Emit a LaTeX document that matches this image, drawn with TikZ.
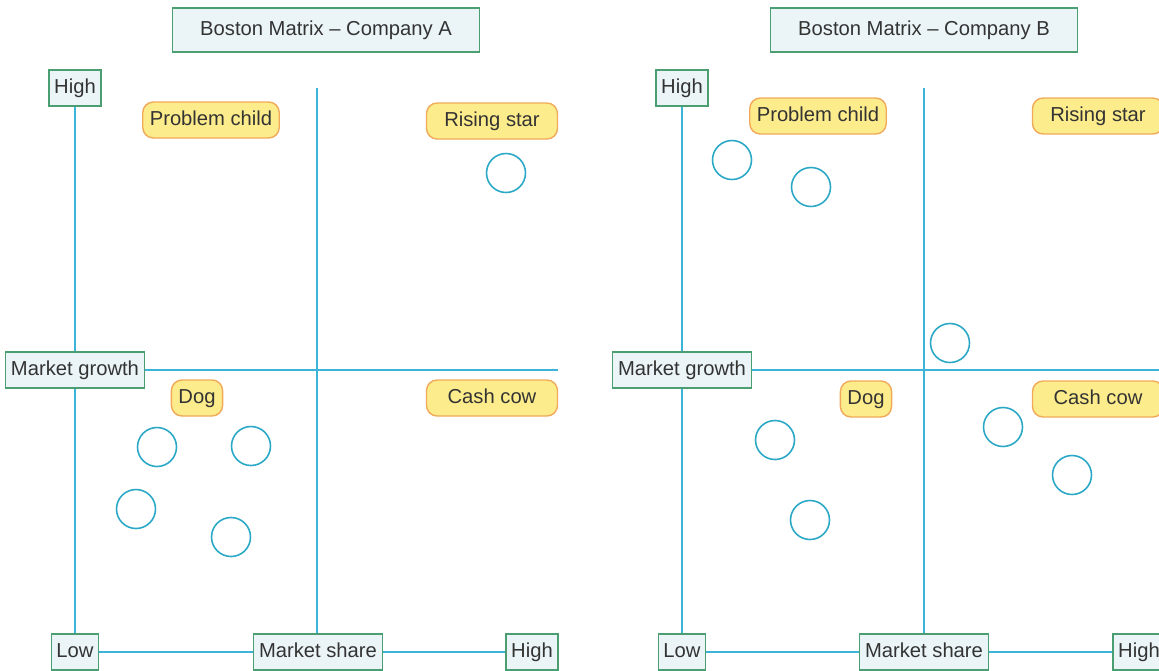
\documentclass[tikz,border=0pt]{standalone}
\usepackage{fontspec}
\setmainfont{Liberation Sans}
\definecolor{boxfill}{HTML}{EBF5F8}
\definecolor{boxline}{HTML}{4A9E72}
\definecolor{axisline}{HTML}{3CB4D7}
\definecolor{pillfill}{HTML}{FDEC8C}
\definecolor{pillline}{HTML}{F0AA5A}
\definecolor{dotline}{HTML}{2AA8C6}
\definecolor{txt}{HTML}{333333}

\begin{document}
\begin{tikzpicture}[
  x=0.02cm, y=-0.02cm,
  font=\fontsize{11.5}{13}\selectfont, text=txt,
  box/.style={draw=boxline, fill=boxfill, line width=0.7pt, inner xsep=3pt,
    text height=8.6pt, text depth=2.4pt, minimum height=0.72cm},
  title/.style={box, minimum width=6.14cm, minimum height=0.88cm},
  pill/.style={draw=pillline, fill=pillfill, line width=0.8pt, rounded corners=6pt,
    inner xsep=4pt, text height=8.6pt, text depth=2.4pt, minimum height=0.72cm},
  widepill/.style={pill, minimum width=2.62cm},
  axis/.style={draw=axisline, line width=0.9pt},
  dot/.style={circle, draw=dotline, line width=0.9pt, minimum size=0.78cm, inner sep=0pt}
]
\useasboundingbox (0,0) rectangle (1159,670);

% company A: titles and axis labels
\node[title] (titleA) at (326,30) {Boston Matrix -- Company A};
\node[box] (hiyA)   at (75,88)   {High};
\node[box] (growA)  at (75,370)  {Market growth};
\node[box] (lowA)   at (75,652)  {Low};
\node[box] (shareA) at (318,652) {Market share};
\node[box] (hixA)   at (532,652) {High};
\coordinate (topA) at (317,88);
\coordinate (endA) at (558,370);

\draw[axis] (hiyA) -- (growA);
\draw[axis] (growA) -- (lowA);
\draw[axis] (growA) -- (endA);
\draw[axis] (topA) -- (topA |- shareA.north);
\draw[axis] (lowA) -- (shareA);
\draw[axis] (shareA) -- (hixA);

% company A: quadrants
\node[pill] (childA) at (211,120) {Problem child};
\node[widepill] (starA) at (492,121) {Rising star};
\node[pill] (dogA) at (197,398) {Dog};
\node[widepill] (cowA) at (492,398) {Cash cow};

\foreach \p/\xx/\yy in {a1/506/173, a2/157/447, a3/251/446, a4/136/509, a5/231/537}
  \node[dot] (\p) at (\xx,\yy) {};

% company B: titles and axis labels
\node[title] (titleB) at (924,30) {Boston Matrix -- Company B};
\node[box] (hiyB)   at (682,88)  {High};
\node[box] (growB)  at (682,370) {Market growth};
\node[box] (lowB)   at (682,652) {Low};
\node[box] (shareB) at (924,652) {Market share};
\node[box] (hixB)   at (1139,652) {High};
\coordinate (topB) at (924,88);
\coordinate (endB) at (1165,370);

\draw[axis] (hiyB) -- (growB);
\draw[axis] (growB) -- (lowB);
\draw[axis] (growB) -- (endB);
\draw[axis] (topB) -- (topB |- shareB.north);
\draw[axis] (lowB) -- (shareB);
\draw[axis] (shareB) -- (hixB);

% company B: quadrants
\node[pill] (childB) at (818,116) {Problem child};
\node[widepill] (starB) at (1098,116) {Rising star};
\node[pill] (dogB) at (866,399) {Dog};
\node[widepill] (cowB) at (1098,399) {Cash cow};

\foreach \p/\xx/\yy in {b1/732/160, b2/811/187, b3/950/343, b4/775/440,
    b5/810/520, b6/1003/427, b7/1072/475}
  \node[dot] (\p) at (\xx,\yy) {};

\end{tikzpicture}
\end{document}
